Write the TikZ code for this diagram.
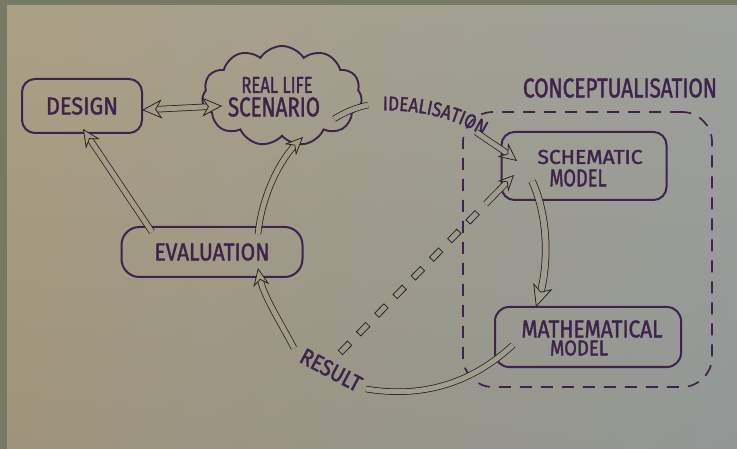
\documentclass[tikz,border=0pt]{standalone}
\usepackage{fontspec}
\usepackage{graphicx}
\usetikzlibrary{arrows.meta,shapes.symbols,decorations.text,shadings,calc}
\newfontfamily\hand{Fira Sans}[FakeStretch=0.85,FakeBold=1.6]
\definecolor{frame}{RGB}{118,122,100}
\definecolor{pUL}{RGB}{170,160,132}
\definecolor{pUR}{RGB}{158,160,156}
\definecolor{pLL}{RGB}{158,148,122}
\definecolor{pLR}{RGB}{146,151,150}
\definecolor{paperL}{RGB}{164,156,132}
\definecolor{paperM}{RGB}{160,157,143}
\definecolor{ink}{RGB}{62,36,74}
\definecolor{pen}{RGB}{36,30,34}
\newcommand{\handtext}[3]{\resizebox{#1pt}{#2pt}{\hand #3}}
\newcommand{\idfont}{\hand\fontsize{20pt}{20pt}\selectfont}
\tikzset{
  box/.style={draw=ink, line width=2pt, rounded corners=#1, inner sep=0pt, text=ink},
  lbl/.style={text=ink, inner sep=0pt},
  hollow/.style={draw=pen, line width=0.75pt, double=#1, double distance=5pt},
  tipline/.style={draw=#1, line width=0.75pt},
  headend/.style n args={3}{arrows={-Stealth[length=#2,width=#3,inset=6pt,color=pen,fill=#1,line width=0.75pt]}},
  headboth/.style n args={3}{arrows={Stealth[length=#2,width=#3,inset=6pt,color=pen,fill=#1,line width=0.75pt]-Stealth[length=#2,width=#3,inset=6pt,color=pen,fill=#1,line width=0.75pt]}},
  dashbox/.style={draw=pen, line width=0.75pt, rectangle, minimum width=13pt, minimum height=6pt, inner sep=0pt, sloped},
}
% #1 shaft options, #2 inner colour, #3 tip options, #4 path
\newcommand{\harrow}[4][shorten >=9pt]{\draw[hollow=#2,#1] #4; \draw[tipline=#2,#3] #4;}
\begin{document}
\begin{tikzpicture}[x=1pt,y=-1pt]
\useasboundingbox (0,0) rectangle (737,449);
\fill[frame] (0,0) rectangle (737,449);
\shade[upper left=pUL, upper right=pUR, lower left=pLL, lower right=pLR] (7,6) rectangle (737,449);

% container
\node[draw=ink, line width=1.7pt, dash pattern=on 12pt off 9pt, rounded corners=30pt,
      minimum width=249pt, minimum height=275pt, inner sep=0pt] (concept) at (587.5,249.5) {};
\node[lbl] (concepttxt) at (620,88) {\handtext{194}{19}{CONCEPTUALISATION}};

% boxes
\node[box=13pt, minimum width=120pt, minimum height=54pt] (design) at (82,106) {\handtext{72}{17}{DESIGN}};
\node[cloud, cloud puffs=11, cloud puff arc=115, aspect=1.55, draw=ink, line width=1.9pt,
      minimum width=160pt, minimum height=100pt, inner sep=0pt] (real) at (282,96) {};
\node[lbl] (realtxt1) at (277,85) {\handtext{71}{16}{REAL LIFE}};
\node[lbl] (realtxt2) at (274,107) {\handtext{92}{19}{SCENARIO}};
\node[box=18pt, minimum width=181pt, minimum height=50pt] (eval) at (212,252) {\handtext{115}{17}{EVALUATION}};
\node[box=13pt, minimum width=165pt, minimum height=68pt] (schem) at (584,166) {};
\node[lbl] (schemtxt1) at (590,157) {\handtext{105}{14}{SCHEMATIC}};
\node[lbl] (schemtxt2) at (578,178) {\handtext{57}{17}{MODEL}};
\node[box=14pt, minimum width=186pt, minimum height=60pt] (math) at (588,337) {};
\node[lbl] (mathtxt1) at (592,329) {\handtext{141}{17}{MATHEMATICAL}};
\node[lbl] (mathtxt2) at (579,348) {\handtext{58}{15}{MODEL}};
\node[lbl, rotate=-28] (result) at (331,370) {\handtext{66}{16}{RESULT}};

% connector end points
\coordinate (dL) at (142,110);
\coordinate (dR) at (222,106);
\coordinate (evD) at (152,232);
\coordinate (deT) at (83,129);
\coordinate (evC) at (258,234);
\coordinate (reT) at (303,137);
\coordinate (idS) at (334,119);
\coordinate (idA) at (368,105);
\coordinate (idB) at (476,132);
\coordinate (scT) at (517,161);
\coordinate (scB) at (532,181);
\coordinate (maT) at (536,307);
\coordinate (maS) at (513,345);
\coordinate (reA) at (366,389);
\coordinate (reB) at (294,348);
\coordinate (evT) at (258,268);
\coordinate (dsS) at (337,356);
\coordinate (dsT) at (514,175);
\coordinate (dsH) at ($(dsS)!0.84!(dsT)$);

% idealisation label along its curve
\path[decorate, decoration={text along path, text={|\idfont|IDEALISATION}, text color=ink, text align=center}]
  (371,111) .. controls (418,108) and (458,118) .. (493,142);

% hollow arrows
\harrow[shorten >=9pt, shorten <=9pt]{paperL}{headboth={paperL}{20pt}{19pt}}{(dL) -- (dR)}
\harrow{paperL}{headend={paperL}{18pt}{17pt}}{(evD) -- (deT)}
\harrow{paperL}{headend={paperL}{18pt}{16pt}}{(evC) .. controls (262,195) and (280,160) .. (reT)}
\draw[hollow=paperM] (idS) .. controls (345,112) and (355,108) .. (idA);
\harrow{paperM}{headend={paperM}{18pt}{17pt}}{(idB) .. controls (490,142) and (503,150) .. (scT)}
\harrow[shorten >=9pt, double distance=6pt]{paperM}{headend={paperM}{22pt}{20pt}}{(scB) .. controls (550,220) and (548,270) .. (maT)}
\draw[hollow=paperM] (maS) .. controls (470,385) and (420,398) .. (reA);
\harrow{paperL}{headend={paperL}{18pt}{16pt}}{(reB) .. controls (278,318) and (263,295) .. (evT)}

% dashed hollow arrow
\foreach \t in {0.045,0.148,0.251,0.354,0.457,0.560,0.663,0.766}
  \path (dsS) -- (dsT) node[dashbox, pos=\t] {};
\harrow[shorten >=7pt]{paperM}{headend={paperM}{16pt}{15pt}}{(dsH) -- (dsT)}
\end{tikzpicture}
\end{document}
